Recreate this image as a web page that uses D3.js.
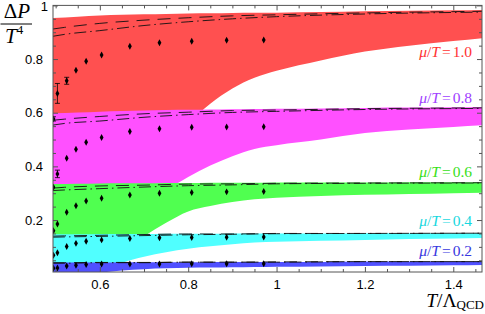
<!DOCTYPE html>
<html>
<head>
<meta charset="utf-8">
<script src="https://cdnjs.cloudflare.com/ajax/libs/d3/7.8.5/d3.min.js"></script>
<style>
  body { margin: 0; background: #fff; }
  .tick text { font-family: "Liberation Sans", Arial, sans-serif; font-size: 13px; fill: #000; }
  .axis path.domain { display: none; }
  .axis line { stroke: #555; }
</style>
</head>
<body>
<div id="viz-container"></div>
<script>
// ---- data ----
const muLabels = ['1.0', '0.8', '0.6', '0.4', '0.2'];

// T / Lambda_QCD grid used for the shaded bands
const bandT = [0.494, 0.55, 0.6, 0.65, 0.7, 0.75, 0.8, 0.85, 0.9, 0.95, 1.0, 1.1, 1.2, 1.3, 1.4, 1.465];
// upper edges
const bandHi10 = [0.953, 0.958, 0.962, 0.965, 0.967, 0.968, 0.970, 0.971, 0.972, 0.973, 0.973, 0.975, 0.978, 0.980, 0.982, 0.983];
const bandHi08 = [0.598, 0.601, 0.604, 0.606, 0.608, 0.610, 0.611, 0.612, 0.613, 0.614, 0.615, 0.616, 0.618, 0.619, 0.620, 0.621];
const bandHi06 = [0.334, 0.335, 0.336, 0.337, 0.337, 0.338, 0.338, 0.339, 0.339, 0.339, 0.340, 0.340, 0.340, 0.341, 0.341, 0.341];
const bandHi04 = [0.147, 0.147, 0.148, 0.148, 0.148, 0.149, 0.149, 0.149, 0.150, 0.150, 0.150, 0.150, 0.151, 0.151, 0.151, 0.152];
const bandHi02 = [0.042, 0.042, 0.042, 0.043, 0.043, 0.043, 0.043, 0.044, 0.044, 0.044, 0.044, 0.044, 0.045, 0.045, 0.045, 0.045];
// lower edges
const bandLo10 = [0.0, 0.05, 0.15, 0.28, 0.40, 0.49, 0.56, 0.633, 0.690, 0.730, 0.756, 0.795, 0.828, 0.850, 0.867, 0.878];
const bandLo08 = [0.0, 0.02, 0.08, 0.17, 0.25, 0.31, 0.36, 0.403, 0.438, 0.465, 0.479, 0.500, 0.524, 0.537, 0.547, 0.553];
const bandLo06 = [0.0, 0.0, 0.02, 0.08, 0.14, 0.19, 0.232, 0.252, 0.267, 0.277, 0.283, 0.290, 0.294, 0.297, 0.300, 0.302];
const bandLo04 = [0.0, 0.0, 0.005, 0.040, 0.063, 0.080, 0.093, 0.102, 0.110, 0.116, 0.119, 0.123, 0.126, 0.129, 0.131, 0.133];
const bandLo02 = [0.0, 0.0, 0.004, 0.012, 0.017, 0.020, 0.022, 0.023, 0.024, 0.025, 0.026, 0.027, 0.029, 0.030, 0.031, 0.032];

// dashed (A) and dash-dotted (B) curves
const lineT = [0.494, 0.52, 0.6, 0.7, 0.8, 0.9, 1.0, 1.2, 1.465];
const lineA10 = [0.912, 0.918, 0.933, 0.945, 0.954, 0.961, 0.965, 0.972, 0.978];
const lineB10 = [0.885, 0.892, 0.906, 0.925, 0.939, 0.950, 0.958, 0.968, 0.975];
const lineA08 = [0.572, 0.576, 0.586, 0.596, 0.602, 0.608, 0.610, 0.615, 0.618];
const lineB08 = [0.554, 0.560, 0.569, 0.583, 0.593, 0.601, 0.605, 0.612, 0.616];
const lineA06 = [0.319, 0.322, 0.327, 0.330, 0.334, 0.335, 0.337, 0.338, 0.339];
const lineB06 = [0.310, 0.312, 0.317, 0.323, 0.328, 0.331, 0.335, 0.337, 0.338];
const lineA04 = [0.140, 0.141, 0.143, 0.146, 0.148, 0.148, 0.150, 0.150, 0.151];
const lineB04 = [0.136, 0.137, 0.139, 0.142, 0.145, 0.147, 0.149, 0.150, 0.151];
const lineA02 = [0.041, 0.041, 0.042, 0.042, 0.043, 0.043, 0.044, 0.045, 0.045];
const lineB02 = [0.039, 0.039, 0.041, 0.041, 0.043, 0.043, 0.043, 0.045, 0.045];

// lattice points
const ptT = [0.495, 0.504, 0.525, 0.546, 0.569, 0.604, 0.668, 0.735, 0.808, 0.887, 0.971];
const pts10 = [0.577, 0.672, 0.719, 0.758, 0.792, 0.815, 0.848, 0.861, 0.866, 0.870, 0.871];
const err10 = [0.008, 0.037, 0.013, 0.006, 0.005, 0.004, 0.004, 0.004, 0.004, 0.004, 0.004];
const pts08 = [0.322, 0.372, 0.430, 0.464, 0.490, 0.508, 0.530, 0.540, 0.546, 0.547, 0.548];
const err08 = [0.005, 0.014, 0.006, 0.005, 0.004, 0.004, 0.003, 0.003, 0.003, 0.003, 0.003];
const pts06 = [0.160, 0.185, 0.229, 0.253, 0.271, 0.281, 0.293, 0.300, 0.303, 0.305, 0.306];
const err06 = [0.004, 0.006, 0.004, 0.003, 0.003, 0.003, 0.003, 0.003, 0.003, 0.003, 0.003];
const pts04 = [0.069, 0.078, 0.101, 0.113, 0.121, 0.126, 0.131, 0.134, 0.135, 0.136, 0.137];
const pts02 = [0.020, 0.021, 0.029, 0.031, 0.034, 0.036, 0.036, 0.036, 0.037, 0.037, 0.037];
const errSmall = [0.003, 0.003, 0.003, 0.002, 0.002, 0.002, 0.002, 0.002, 0.002, 0.002, 0.002];

// axis ticks
const xMajor = [0.6, 0.8, 1.0, 1.2, 1.4];
const xTickLabels = ['0.6', '0.8', '1', '1.2', '1.4'];
const yMajor = [0.2, 0.4, 0.6, 0.8, 1.0];
const yTickLabels = ['0.2', '0.4', '0.6', '0.8', '1'];

// ---- styles ----
const bandColors = ['#ff5050', '#ff50ff', '#50ff50', '#50ffff', '#5050ff'];
const labelColors = ['#ff3333', '#a040ff', '#38e018', '#18d8e0', '#3838e0'];

const series = [
    { mu: muLabels[0], hi: bandHi10, lo: bandLo10, a: lineA10, b: lineB10, p: pts10, e: err10 },
    { mu: muLabels[1], hi: bandHi08, lo: bandLo08, a: lineA08, b: lineB08, p: pts08, e: err08 },
    { mu: muLabels[2], hi: bandHi06, lo: bandLo06, a: lineA06, b: lineB06, p: pts06, e: err06 },
    { mu: muLabels[3], hi: bandHi04, lo: bandLo04, a: lineA04, b: lineB04, p: pts04, e: errSmall },
    { mu: muLabels[4], hi: bandHi02, lo: bandLo02, a: lineA02, b: lineB02, p: pts02, e: errSmall }
];

const W = 485, H = 314;
const pLeft = 53, pRight = 482, pTop = 5.4, pBottom = 272;

const x = d3.scaleLinear().domain([0.494, 1.465]).range([pLeft, pRight]);
const y = d3.scaleLinear().domain([0.0063, 1.0]).range([pBottom, pTop]);

const svg = d3.select('#viz-container').append('svg')
    .attr('width', W).attr('height', H);

svg.append('clipPath').attr('id', 'plot-clip')
    .append('rect')
    .attr('x', pLeft).attr('y', pTop)
    .attr('width', pRight - pLeft).attr('height', pBottom - pTop);

const plot = svg.append('g').attr('clip-path', 'url(#plot-clip)');

// bands, drawn top series first so that lower ones cover them
const area = d3.area()
    .x(d => x(d.t)).y0(d => y(d.lo)).y1(d => y(d.hi))
    .curve(d3.curveMonotoneX);

series.forEach((s, i) => {
    const rows = bandT.map((t, j) => ({ t: t, lo: s.lo[j], hi: s.hi[j] }));
    plot.append('path').datum(rows)
        .attr('d', area)
        .attr('fill', bandColors[i]);
});

// dashed / dash-dotted curves
const line = d3.line().x(d => x(d.t)).y(d => y(d.v)).curve(d3.curveMonotoneX);
series.forEach((s) => {
    plot.append('path').datum(lineT.map((t, j) => ({ t: t, v: s.a[j] })))
        .attr('d', line)
        .attr('fill', 'none').attr('stroke', '#111').attr('stroke-width', 0.9)
        .attr('stroke-dasharray', '13,8');
    plot.append('path').datum(lineT.map((t, j) => ({ t: t, v: s.b[j] })))
        .attr('d', line)
        .attr('fill', 'none').attr('stroke', '#111').attr('stroke-width', 0.9)
        .attr('stroke-dasharray', '12,4,1.5,4');
});

// points with error bars
const diamond = d3.symbol().type(d3.symbolDiamond).size(14);
series.forEach((s) => {
    const rows = ptT.map((t, j) => ({ t: t, v: s.p[j], e: s.e[j] }));
    const g = plot.append('g');
    const eb = g.selectAll('g.err').data(rows).enter().append('g').attr('class', 'err');
    eb.append('line')
        .attr('x1', d => x(d.t)).attr('x2', d => x(d.t))
        .attr('y1', d => y(d.v - d.e)).attr('y2', d => y(d.v + d.e))
        .attr('stroke', '#000').attr('stroke-width', 0.8);
    eb.filter(d => d.e > 0.006).each(function (d) {
        [d.v - d.e, d.v + d.e].forEach(v => {
            d3.select(this).append('line')
                .attr('x1', x(d.t) - 2.5).attr('x2', x(d.t) + 2.5)
                .attr('y1', y(v)).attr('y2', y(v))
                .attr('stroke', '#000').attr('stroke-width', 0.8);
        });
    });
    g.selectAll('path.pt').data(rows).enter().append('path')
        .attr('class', 'pt')
        .attr('d', diamond)
        .attr('transform', d => 'translate(' + x(d.t) + ',' + y(d.v) + ') scale(0.95,1)')
        .attr('fill', '#000');
});

// frame
svg.append('rect')
    .attr('x', pLeft).attr('y', pTop)
    .attr('width', pRight - pLeft).attr('height', pBottom - pTop)
    .attr('fill', 'none').attr('stroke', '#555').attr('stroke-width', 1);

// ticks on all four sides, pointing inwards
const xMinor = d3.range(0.5, 1.46, 0.05).filter(v => !xMajor.some(m => Math.abs(m - v) < 1e-6));
const yMinor = d3.range(0.05, 1.0, 0.05).filter(v => !yMajor.some(m => Math.abs(m - v) < 1e-6));

svg.append('g').attr('class', 'axis').attr('transform', 'translate(0,' + pBottom + ')')
    .call(d3.axisBottom(x).tickValues(xMajor).tickSize(-5).tickPadding(8)
        .tickFormat((d, i) => xTickLabels[i]));
svg.append('g').attr('class', 'axis').attr('transform', 'translate(0,' + pBottom + ')')
    .call(d3.axisBottom(x).tickValues(xMinor).tickSize(-3).tickFormat(''));
svg.append('g').attr('class', 'axis').attr('transform', 'translate(0,' + pTop + ')')
    .call(d3.axisTop(x).tickValues(xMajor).tickSize(-5).tickFormat(''));
svg.append('g').attr('class', 'axis').attr('transform', 'translate(0,' + pTop + ')')
    .call(d3.axisTop(x).tickValues(xMinor).tickSize(-3).tickFormat(''));

const yAxis = svg.append('g').attr('class', 'axis').attr('transform', 'translate(' + pLeft + ',0)')
    .call(d3.axisLeft(y).tickValues(yMajor).tickSize(-5).tickPadding(10)
        .tickFormat((d, i) => yTickLabels[i]));
svg.append('g').attr('class', 'axis').attr('transform', 'translate(' + pLeft + ',0)')
    .call(d3.axisLeft(y).tickValues(yMinor).tickSize(-3).tickFormat(''));
svg.append('g').attr('class', 'axis').attr('transform', 'translate(' + pRight + ',0)')
    .call(d3.axisRight(y).tickValues(yMajor).tickSize(-5).tickFormat(''));
svg.append('g').attr('class', 'axis').attr('transform', 'translate(' + pRight + ',0)')
    .call(d3.axisRight(y).tickValues(yMinor).tickSize(-3).tickFormat(''));

// the "1" label sits a bit lower and to the right
yAxis.selectAll('.tick').filter(d => d === 1.0).select('text')
    .attr('x', -5).attr('dy', '0.32em').attr('y', 1.2);

// mu/T labels on the right
const labelY = [57, 103, 177, 226, 256];
const serif = '"Liberation Serif", "DejaVu Serif", serif';
series.forEach((s, i) => {
    const t = svg.append('text')
        .attr('x', 472).attr('y', labelY[i])
        .attr('text-anchor', 'end')
        .attr('font-family', serif).attr('font-size', 15.5)
        .attr('fill', labelColors[i]);
    t.append('tspan').attr('font-style', 'italic').text('μ');
    t.append('tspan').text('/');
    t.append('tspan').attr('font-style', 'italic').text('T');
    t.append('tspan').attr('dx', 2).text('=');
    t.append('tspan').attr('dx', 2).text(s.mu);
});

// y axis title: Delta P / T^4
const yt = svg.append('g').attr('font-family', serif).attr('font-size', 21);
const num = yt.append('text').attr('x', 17).attr('y', 18).attr('text-anchor', 'middle');
num.append('tspan').text('Δ');
num.append('tspan').attr('font-style', 'italic').text('P');
yt.append('line').attr('x1', 0.5).attr('x2', 32).attr('y1', 24).attr('y2', 24)
    .attr('stroke', '#000').attr('stroke-width', 1);
const den = yt.append('text').attr('x', 5).attr('y', 43);
den.append('tspan').attr('font-style', 'italic').text('T');
den.append('tspan').attr('font-size', 13).attr('dy', -9).text('4');

// x axis title: T / Lambda_QCD
const xt = svg.append('text').attr('x', 484).attr('y', 307)
    .attr('text-anchor', 'end')
    .attr('font-family', serif).attr('font-size', 19.5);
xt.append('tspan').attr('font-style', 'italic').text('T');
xt.append('tspan').text('/Λ');
xt.append('tspan').attr('font-size', 13).attr('dy', 2).text('QCD');
</script>
</body>
</html>
